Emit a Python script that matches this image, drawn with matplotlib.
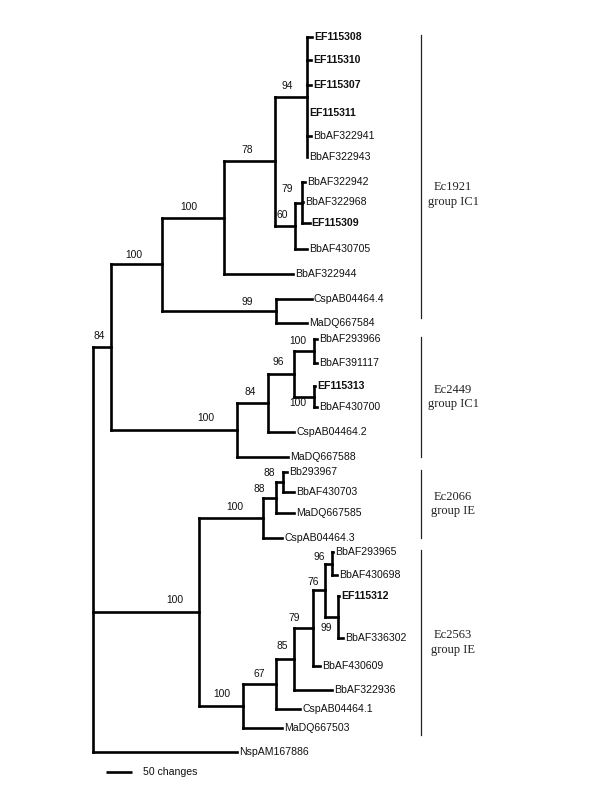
import matplotlib
matplotlib.use("Agg")
import matplotlib.pyplot as plt
from matplotlib.collections import LineCollection
import matplotlib.transforms as mtransforms

# ---------------- data ----------------
# internal nodes: id, parent, branch length (changes), bootstrap support
node_ids = ["root", "n84a", "n100a", "n100b", "n78", "n94", "n60", "n79", "n99",
            "n100c", "n84b", "n96", "n100d", "n100e",
            "nIE", "n100f", "n88a", "n88b", "n100g", "n67", "n85", "n79b", "n76",
            "n96b", "n99b"]
node_parent = [None, "root", "n84a", "n100a", "n100b", "n78", "n78", "n60", "n100a",
               "n84a", "n100c", "n84b", "n96", "n96",
               "root", "nIE", "n100f", "n88a", "nIE", "n100g", "n67", "n85", "n79b",
               "n76", "n76"]
node_length = [0, 34.6, 98, 119, 98, 61.5, 38.5, 13.5, 219,
               242, 60, 50, 38.5, 38.5,
               204, 123, 25, 13.5, 85, 63.5, 34.6, 36.5, 23,
               13.5, 25]
node_support = [None, 84, 100, 100, 78, 94, 60, 79, 99,
                100, 84, 96, 100, 100,
                100, 100, 88, 88, 100, 67, 85, 79, 76,
                96, 99]

# leaves (top to bottom)
leaf_names = ["EF115308", "EF115310", "EF115307", "EF115311", "BbAF322941", "BbAF322943",
              "BbAF322942", "BbAF322968", "EF115309", "BbAF430705", "BbAF322944",
              "CspAB04464.4", "MaDQ667584", "BbAF293966", "BbAF391117", "EF115313",
              "BbAF430700", "CspAB04464.2", "MaDQ667588", "Bb293967", "BbAF430703",
              "MaDQ667585", "CspAB04464.3", "BbAF293965", "BbAF430698", "EF115312",
              "BbAF336302", "BbAF430609", "BbAF322936", "CspAB04464.1", "MaDQ667503",
              "NspAM167886"]
leaf_parent = ["n94"] * 6 + ["n79"] * 3 + [
    "n60", "n100b", "n99", "n99", "n100d", "n100d", "n100e", "n100e", "n84b", "n100c",
    "n88b", "n88b", "n88a", "n100f", "n96b", "n96b", "n99b", "n99b", "n79b", "n85",
    "n67", "n100g", "root"]
leaf_length = [9.6, 7.7, 7.7, 0, 7.7, 0, 5.8, 2, 15, 23, 133, 69, 60, 6, 6, 2, 6, 50, 98,
               7.7, 21, 34.6, 36.5, 2, 9.6, 2, 9.6, 13.5, 73, 46, 75, 277]
new_isolates = ["EF115308", "EF115310", "EF115307", "EF115311", "EF115309",
                "EF115313", "EF115312"]

group_labels = ["Ec1921\ngroup IC1", "Ec2449\ngroup IC1", "Ec2066\ngroup IE",
                "Ec2563\ngroup IE"]
group_first = ["EF115308", "BbAF293966", "Bb293967", "BbAF293965"]
group_last = ["MaDQ667584", "MaDQ667588", "CspAB04464.3", "MaDQ667503"]

scale_changes = 50

# ---------------- layout ----------------
leaf_rows = [37, 60, 85, 113, 136, 157, 182, 202, 223, 249, 274, 299, 323, 339, 363, 386,
             407, 432, 457, 472, 492, 513, 538, 552, 575, 596, 638, 666, 690, 709, 728, 752]
px_per_change = 26 / 50.0
root_px = 93
# support label offset (px): right edge dx from node, centre dy from branch (neg = up)
sup_off = {"n84a": (-6, -11), "n100a": (-20, -9), "n100b": (-26, -11), "n78": (-22, -11),
           "n94": (-14, -11), "n60": (-7, -11), "n79": (-9, -13), "n99": (-23, -9),
           "n100c": (-22, -12), "n84b": (-12, -11), "n96": (-10, -12), "n100d": (-8, -10),
           "n100e": (-8, 7), "nIE": (-16, -12), "n100f": (-20, -11), "n88a": (-11, -9),
           "n88b": (-8, -9), "n100g": (-13, -12), "n67": (-11, -10), "n85": (-6, -13),
           "n79b": (-13, -10), "n76": (-6, -8), "n96b": (-7, -7), "n99b": (-6, 11)}
group_text_dy = {"Ec1921\ngroup IC1": 18}

SANS = ["Liberation Sans", "DejaVu Sans"]
SERIF = ["Liberation Serif", "DejaVu Serif"]

# ---------------- compute tree geometry ----------------
depth = {}
parent_of = dict(zip(node_ids, node_parent))
len_of = dict(zip(node_ids, node_length))


def node_depth(n):
    if n in depth:
        return depth[n]
    p = parent_of[n]
    d = 0.0 if p is None else node_depth(p) + len_of[n]
    depth[n] = d
    return d


for n in node_ids:
    node_depth(n)

children = {n: [] for n in node_ids}
ypos = {}
xpos = dict(depth)
for name, par, ln, yr in zip(leaf_names, leaf_parent, leaf_length, leaf_rows):
    xpos[name] = depth[par] + ln
    ypos[name] = yr
    children[par].append(name)
for n, p in zip(node_ids, node_parent):
    if p is not None:
        children[p].append(n)


def node_y(n):
    if n in ypos:
        return ypos[n]
    ys = [node_y(c) for c in children[n]]
    ypos[n] = (min(ys) + max(ys)) / 2.0
    return ypos[n]


for n in node_ids:
    node_y(n)

# ---------------- draw ----------------
fig = plt.figure(figsize=(6, 8), dpi=100)
ax = fig.add_axes([0, 0, 1, 1])
ax.set_xlim(-root_px / px_per_change, (600 - root_px) / px_per_change)
ax.set_ylim(800, 0)
ax.axis("off")

segs = []
for n in node_ids:
    ys = [ypos[c] for c in children[n]]
    segs.append([(xpos[n], min(ys)), (xpos[n], max(ys))])
    for c in children[n]:
        if xpos[c] > xpos[n]:
            segs.append([(xpos[n], ypos[c]), (xpos[c], ypos[c])])
lc = LineCollection(segs, colors="black", linewidths=1.9, capstyle="projecting")
ax.add_collection(lc)

for name in leaf_names:
    bold = name in new_isolates
    ax.annotate(name, (xpos[name], ypos[name]), xytext=(2, 0), textcoords="offset pixels",
                ha="left", va="center", fontsize=7.6, family=SANS,
                fontweight="bold" if bold else "normal", color="#111111")

for n, s in zip(node_ids, node_support):
    if s is None:
        continue
    dx, dy = sup_off[n]
    ax.annotate(str(s), (xpos[parent_of[n]] + len_of[n], ypos[n]), xytext=(dx, -dy),
                textcoords="offset pixels", ha="right", va="center", fontsize=7.4,
                family=SANS, color="#111111")

trans = mtransforms.blended_transform_factory(ax.transAxes, ax.transData)
for lab, a, b in zip(group_labels, group_first, group_last):
    y0 = ypos[a] - 2
    y1 = ypos[b] + (7 if lab.startswith("Ec2563") else 0)
    if lab.startswith("Ec1921"):
        y0, y1 = ypos[a] - 2, ypos[b] - 5
    ax.plot([421 / 600, 421 / 600], [y0, y1], transform=trans, color="#222222", lw=0.9)
    ax.text(453 / 600, (y0 + y1) / 2 + group_text_dy.get(lab, 0), lab, transform=trans,
            ha="center", va="center", fontsize=9, family=SERIF, linespacing=1.25,
            color="#222222")

# scale bar
sb_x0 = (106 - root_px) / px_per_change
ax.plot([sb_x0, sb_x0 + scale_changes], [772, 772], color="black", lw=1.9,
        solid_capstyle="butt")
ax.annotate(f"{scale_changes} changes", (sb_x0 + scale_changes, 772), xytext=(11, 0),
            textcoords="offset pixels", ha="left", va="center", fontsize=7.6, family=SANS,
            color="#111111")

fig.savefig("out.png", dpi=100, facecolor="white")
